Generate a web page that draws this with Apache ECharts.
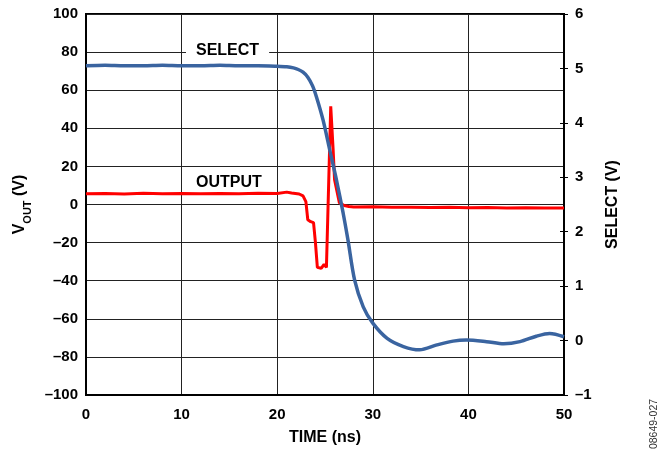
<!DOCTYPE html>
<html>
<head>
<meta charset="utf-8">
<script src="https://cdn.jsdelivr.net/npm/echarts@6/dist/echarts.min.js"></script>
<style>
html,body{margin:0;padding:0;background:#fff;}
#chart{width:661px;height:452px;}
</style>
</head>
<body>
<div id="chart"></div>
<script>
// Time (ns) tick labels
var xTicks = [0, 10, 20, 30, 40, 50];
var vOutTicks = [-100, -80, -60, -40, -20, 0, 20, 40, 60, 80, 100];
var selectTicks = [-1, 0, 1, 2, 3, 4, 5, 6];

// OUTPUT (V) vs time (ns), left axis
var outputTime = [0, 2, 4, 6, 8, 10, 12, 14, 16, 18, 20, 21, 21.5, 22.3, 22.7, 23.0, 23.2, 23.5, 23.8, 24.0, 24.2, 24.6, 24.9, 25.15, 25.3, 25.6, 25.85, 26.0, 26.5, 27.0, 27.5, 28, 30, 32, 34, 36, 38, 40, 42, 44, 46, 48, 50];
var outputVolts = [5.6, 5.8, 5.5, 5.9, 5.7, 5.8, 5.6, 5.8, 5.7, 5.9, 5.8, 6.5, 6.0, 5.5, 4.5, 1.5, -8, -9, -9.5, -20, -33, -33.5, -31.5, -33, -33, 51.5, 28.8, 13, 1, -0.5, -1, -1.3, -1.2, -1.5, -1.4, -1.6, -1.5, -1.7, -1.6, -1.8, -1.7, -1.9, -1.8];

// SELECT (V) vs time (ns), right axis
var selectTime = [0, 2, 4, 6, 8, 10, 12, 14, 16, 18, 20, 21, 21.7, 22.2, 22.7, 23.2, 23.7, 24.1, 24.8, 25.5, 26.2, 26.9, 27.4, 28.1, 29.0, 30.0, 31.5, 33.2, 34.9, 36.7, 38.4, 39.8, 41.9, 43.7, 45.4, 47.1, 48.5, 50];
var selectVolts = [5.05, 5.06, 5.05, 5.05, 5.06, 5.05, 5.05, 5.06, 5.05, 5.05, 5.04, 5.03, 5.01, 4.98, 4.93, 4.84, 4.68, 4.48, 4.05, 3.5, 2.95, 2.34, 1.85, 1.11, 0.62, 0.32, 0.04, -0.11, -0.17, -0.08, -0.01, 0.01, -0.02, -0.06, -0.02, 0.08, 0.13, 0.07];

function pairs(xs, ys) { return xs.map(function (x, i) { return [x, ys[i]]; }); }

var FONT = 'Liberation Sans';
var chart = echarts.init(document.getElementById('chart'), null, { renderer: 'canvas' });
var labelStyle = { fontFamily: FONT, fontWeight: 'bold', fontSize: 15, color: '#000' };
var nameStyle = { fontFamily: FONT, fontWeight: 'bold', fontSize: 16, color: '#000' };
function dashMinus(v) { return v < 0 ? '\u2013' + Math.abs(v) : String(v); }

chart.setOption({
  animation: false,
  backgroundColor: '#fff',
  grid: { left: 86, right: 97, top: 14, bottom: 57, show: true, borderColor: '#000', borderWidth: 2, backgroundColor: 'transparent' },
  xAxis: {
    type: 'value', min: xTicks[0], max: xTicks[xTicks.length - 1], interval: 10,
    name: 'TIME (ns)', nameLocation: 'middle', nameGap: 35, nameTextStyle: nameStyle,
    axisLine: { onZero: false, lineStyle: { color: '#000', width: 2 } },
    axisTick: { show: false },
    axisLabel: Object.assign({ margin: 12 }, labelStyle),
    splitLine: { show: true, lineStyle: { color: '#222', width: 1 } }
  },
  yAxis: [
    {
      type: 'value', min: vOutTicks[0], max: vOutTicks[vOutTicks.length - 1], interval: 20, position: 'left',
      name: '{a|V}{b|OUT}{a| (V)}', nameLocation: 'middle', nameGap: 56,
      nameTextStyle: {
        rich: {
          a: { fontFamily: FONT, fontWeight: 'bold', fontSize: 16, color: '#000', lineHeight: 20 },
          b: { fontFamily: FONT, fontWeight: 'bold', fontSize: 11, color: '#000', lineHeight: 20, verticalAlign: 'bottom', padding: [0, 0, -3, 0] }
        }
      },
      axisLine: { show: true, onZero: false, lineStyle: { color: '#000', width: 2 } },
      axisTick: { show: false },
      axisLabel: Object.assign({ margin: 8 }, labelStyle, { formatter: dashMinus }),
      splitLine: { show: true, lineStyle: { color: '#222', width: 1 } }
    },
    {
      type: 'value', min: selectTicks[0], max: selectTicks[selectTicks.length - 1], interval: 1, position: 'right',
      name: 'SELECT (V)', nameLocation: 'middle', nameGap: 41, nameTextStyle: nameStyle,
      axisLine: { show: true, onZero: false, lineStyle: { color: '#000', width: 2 } },
      axisTick: { show: true, length: 4, lineStyle: { color: '#000', width: 1 } },
      axisLabel: Object.assign({ margin: 11 }, labelStyle, { formatter: dashMinus }),
      splitLine: { show: false }
    },
    {
      type: 'value', min: selectTicks[0], max: selectTicks[selectTicks.length - 1], interval: 1, position: 'right',
      axisLine: { show: false, onZero: false },
      axisTick: { show: true, inside: true, length: 4, lineStyle: { color: '#000', width: 1 } },
      axisLabel: { show: false },
      splitLine: { show: false }
    }
  ],
  series: [
    {
      name: 'OUTPUT', type: 'line', yAxisIndex: 0, data: pairs(outputTime, outputVolts),
      showSymbol: false, lineStyle: { color: '#ff0000', width: 3 }, z: 3
    },
    {
      name: 'SELECT', type: 'line', yAxisIndex: 1, data: pairs(selectTime, selectVolts),
      showSymbol: false, smooth: 0.3, lineStyle: { color: '#3a64a0', width: 3.5 }, z: 4
    }
  ],
  graphic: [
    {
      type: 'text', left: 186, top: 43, z: 10,
      style: { text: 'SELECT', font: 'bold 16px "Liberation Sans"', fill: '#000', backgroundColor: '#fff', padding: [0, 10, 0, 10] }
    },
    {
      type: 'text', left: 196, top: 175, z: 10,
      style: { text: 'OUTPUT', font: 'bold 16px "Liberation Sans"', fill: '#000' }
    },
    {
      type: 'text', x: 654, y: 424, rotation: Math.PI / 2, z: 10,
      style: { text: '08649-027', font: '10.5px "Liberation Sans"', fill: '#333', align: 'center', verticalAlign: 'middle' }
    }
  ]
});
</script>
</body>
</html>
